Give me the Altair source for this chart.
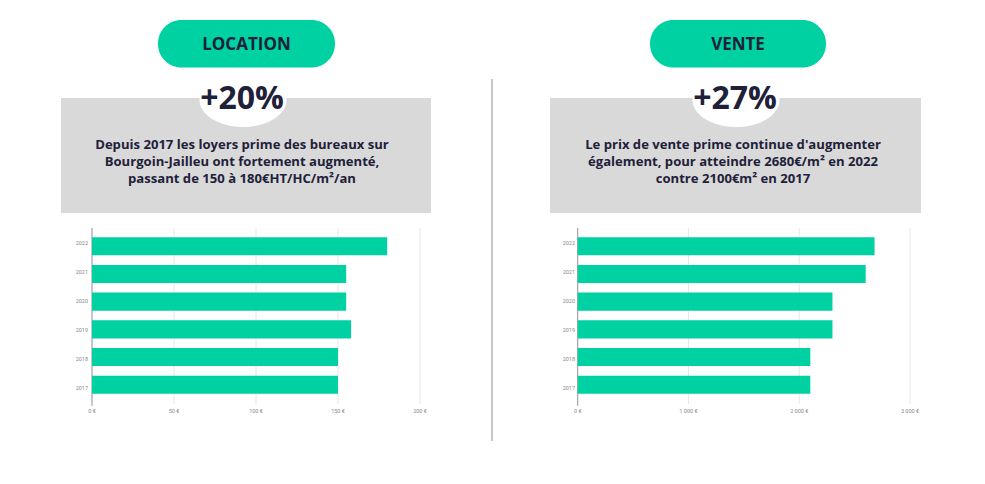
import altair as alt
import pandas as pd

# ---- data ----
years = ["2022", "2021", "2020", "2019", "2018", "2017"]
loyers = [180, 155, 155, 158, 150, 150]
ventes = [2680, 2600, 2300, 2300, 2100, 2100]
loc_ticks = [0, 50, 100, 150, 200]
loc_tick_labels = ["0 €", "50 €", "100 €", "150 €", "200 €"]
vente_ticks = [0, 1000, 2000, 3000]
vente_tick_labels = ["0 €", "1 000 €", "2 000 €", "3 000 €"]
titles = ["LOCATION", "VENTE"]
hausses = ["+20%", "+27%"]
textes = [
    ["Depuis 2017 les loyers prime des bureaux sur",
     "Bourgoin-Jailleu ont fortement augmenté,",
     "passant de 150 à 180€HT/HC/m²/an"],
    ["Le prix de vente prime continue d'augmenter",
     "également, pour atteindre 2680€/m² en 2022",
     "contre 2100€m² en 2017"],
]

GREEN = "#00D1A3"
NAVY = "#1E2139"
FONT = "Open Sans"
ELLIPSE = "M -1 0 A 1 0.62 0 1 1 1 0 A 1 0.62 0 1 1 -1 0 Z"
one = pd.DataFrame({"k": [0]})


def panel(i, values, ticks, labels, xmax, xrange, pill_x, box_x, cx_pct, cx_txt, ylab_x):
    xs = alt.Scale(domain=[0, xmax], range=xrange, nice=False, zero=True)
    ys = alt.Scale(domain=years, range=[220, 395], paddingInner=0.35, paddingOuter=0.33)
    bars_df = pd.DataFrame({"annee": years, "valeur": values})
    ticks_df = pd.DataFrame({"v": ticks, "lab": labels})

    pill = alt.Chart(one).mark_rect(cornerRadius=23.5, color=GREEN).encode(
        x=alt.value(pill_x[0]), x2=alt.value(pill_x[1]),
        y=alt.value(12), y2=alt.value(59.5))
    pill_txt = alt.Chart(one).mark_text(
        text=titles[i], font=FONT, fontSize=17, fontWeight="bold", color=NAVY,
        align="center", baseline="middle").encode(
        x=alt.value((pill_x[0] + pill_x[1]) / 2), y=alt.value(37))
    box = alt.Chart(one).mark_rect(color="#D9D9D9").encode(
        x=alt.value(box_x[0]), x2=alt.value(box_x[1]),
        y=alt.value(90), y2=alt.value(205))
    ell = alt.Chart(one).mark_point(shape=ELLIPSE, filled=True, color="white",
                                    opacity=1, size=7569, strokeWidth=0).encode(
        x=alt.value(cx_pct), y=alt.value(92))
    pct = alt.Chart(one).mark_text(
        text=hausses[i], font=FONT, fontSize=32, fontWeight="bold", color=NAVY,
        align="center", baseline="middle").encode(
        x=alt.value(cx_pct - 1), y=alt.value(91))
    para = alt.Chart(one).mark_text(
        text=textes[i], font=FONT, fontSize=13.1, fontWeight="bold", color=NAVY,
        align="center", baseline="middle", lineHeight=17).encode(
        x=alt.value(cx_txt), y=alt.value(137))

    grid = alt.Chart(ticks_df).mark_rule(color="#E6E6E6", strokeWidth=1).encode(
        x=alt.X("v:Q", scale=xs, axis=None),
        y=alt.value(220), y2=alt.value(396))
    axisline = alt.Chart(one).mark_rule(color="#9A9A9A", strokeWidth=1).encode(
        x=alt.datum(0, scale=xs, axis=None),
        y=alt.value(220), y2=alt.value(398))
    bars = alt.Chart(bars_df).mark_bar(color=GREEN).encode(
        x=alt.X("valeur:Q", scale=xs, axis=None),
        y=alt.Y("annee:N", scale=ys, axis=None, sort=years))
    xlab = alt.Chart(ticks_df).mark_text(
        font="Roboto", fontSize=5.5, color="#8A8A8A", align="center",
        baseline="middle").encode(
        x=alt.X("v:Q", scale=xs, axis=None), y=alt.value(403), text="lab:N")
    ylab = alt.Chart(bars_df).mark_text(
        font="Roboto", fontSize=5.5, color="#8A8A8A", align="right",
        baseline="middle").encode(
        x=alt.value(ylab_x), y=alt.Y("annee:N", scale=ys, axis=None, sort=years),
        text="annee:N")
    return [pill, pill_txt, box, ell, pct, para, grid, axisline, bars, xlab, ylab]


left = panel(0, loyers, loc_ticks, loc_tick_labels, 200, [84, 412],
             (150, 327), (53, 423), 235, 234, 80)
right = panel(1, ventes, vente_ticks, vente_tick_labels, 3000, [569.7, 902],
              (642, 818), (542, 913), 728, 725, 567)

divider = alt.Chart(one).mark_rule(color="#B0B5B5", strokeWidth=1.5).encode(
    x=alt.value(484), y=alt.value(71), y2=alt.value(433))

chart = alt.layer(*left, *right, divider).resolve_scale(
    x="independent", y="independent"
).properties(
    width=969, height=468, padding=0,
    autosize=alt.AutoSizeParams(type="none"),
    background="white",
).configure_view(stroke=None)

chart.save("out.html", embed_options={"renderer": "svg", "actions": False})
